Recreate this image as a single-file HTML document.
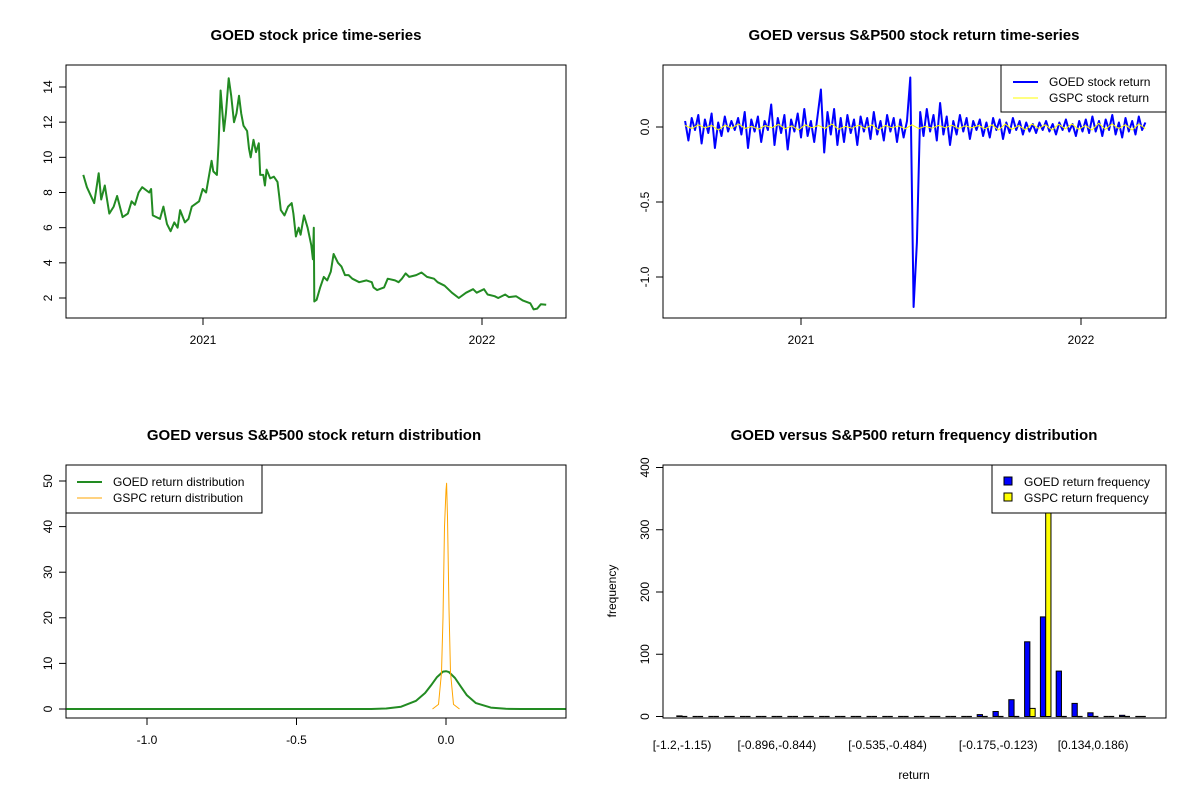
<!DOCTYPE html>
<html><head><meta charset="utf-8"><title>GOED charts</title>
<style>
html,body{margin:0;padding:0;background:#fff;}
svg{display:block;font-family:"Liberation Sans",Arial,sans-serif;}
.t{font-weight:bold;font-size:15px;}
.k{font-size:12px;}
</style></head><body>
<svg id="c" width="1200" height="800" viewBox="0 0 1200 800" xmlns="http://www.w3.org/2000/svg"></svg>
<script>
// ---------- DATA ----------
const priceT = [2020.571,2020.584,2020.610,2020.626,2020.635,2020.648,2020.664,2020.680,2020.692,2020.712,2020.731,2020.744,2020.756,2020.769,2020.782,2020.807,2020.814,2020.820,2020.846,2020.858,2020.871,2020.884,2020.897,2020.909,2020.918,2020.935,2020.948,2020.960,2020.986,2020.999,2021.011,2021.031,2021.037,2021.050,2021.056,2021.063,2021.075,2021.082,2021.092,2021.101,2021.111,2021.120,2021.129,2021.137,2021.145,2021.158,2021.165,2021.171,2021.181,2021.190,2021.200,2021.205,2021.216,2021.222,2021.228,2021.241,2021.254,2021.267,2021.273,2021.279,2021.292,2021.305,2021.318,2021.324,2021.333,2021.343,2021.350,2021.362,2021.375,2021.388,2021.394,2021.397,2021.399,2021.407,2021.420,2021.433,2021.445,2021.458,2021.468,2021.484,2021.496,2021.509,2021.522,2021.535,2021.560,2021.586,2021.605,2021.611,2021.624,2021.649,2021.662,2021.688,2021.701,2021.713,2021.726,2021.739,2021.764,2021.783,2021.803,2021.828,2021.841,2021.866,2021.892,2021.917,2021.943,2021.968,2021.981,2022.007,2022.020,2022.045,2022.058,2022.083,2022.096,2022.122,2022.147,2022.173,2022.185,2022.198,2022.211,2022.230];
const priceV = [9.0,8.3,7.4,9.1,7.6,8.4,6.8,7.2,7.8,6.6,6.8,7.5,7.3,8.0,8.3,8.0,8.2,6.7,6.5,7.2,6.2,5.8,6.3,6.0,7.0,6.3,6.5,7.2,7.5,8.2,8.0,9.8,9.2,9.0,10.8,13.8,11.5,12.5,14.5,13.5,12.0,12.5,13.5,12.5,11.8,11.5,10.5,10.0,11.0,10.3,10.8,9.0,9.0,8.4,9.3,8.8,8.9,8.6,7.8,7.0,6.7,7.2,7.4,6.8,5.5,6.0,5.6,6.7,6.0,5.0,4.2,6.0,1.8,1.9,2.6,3.2,3.0,3.5,4.5,4.0,3.8,3.3,3.3,3.1,2.9,3.0,2.9,2.6,2.45,2.6,3.1,3.0,2.9,3.1,3.4,3.2,3.3,3.45,3.2,3.1,2.9,2.7,2.3,2.0,2.3,2.5,2.3,2.5,2.2,2.1,2.0,2.2,2.05,2.1,1.85,1.7,1.35,1.4,1.65,1.62];
const priceTicksY = [2,4,6,8,10,12,14];
const yearTicks = [2021,2022];
const retStart = 2020.586, retEnd = 2022.23;
const goedRet = [0.04,-0.09,0.06,-0.02,0.08,-0.11,0.05,-0.04,0.09,-0.14,0.03,-0.06,0.07,-0.03,0.04,-0.02,0.06,-0.05,0.1,-0.14,0.05,-0.03,0.07,-0.1,0.04,-0.02,0.15,-0.12,0.06,-0.04,0.08,-0.15,0.05,-0.03,0.09,-0.07,0.12,-0.06,0.04,-0.1,0.07,0.25,-0.17,0.1,-0.05,0.12,-0.12,0.06,-0.1,0.08,-0.04,0.05,-0.12,0.07,-0.03,0.06,-0.08,0.1,-0.05,0.04,-0.09,0.08,-0.03,0.06,-0.1,0.05,-0.07,0.04,0.33,-1.2,-0.77,0.1,-0.06,0.12,-0.03,0.08,-0.09,0.16,-0.05,0.07,-0.12,0.04,-0.05,0.08,-0.03,0.06,-0.08,0.04,-0.02,0.05,-0.06,0.03,-0.07,0.06,-0.02,0.05,-0.08,0.03,-0.04,0.06,-0.02,0.04,-0.05,0.03,-0.03,0.02,-0.04,0.03,-0.02,0.04,-0.03,0.02,-0.05,0.03,-0.02,0.05,-0.03,0.02,-0.06,0.04,-0.03,0.05,-0.04,0.07,-0.03,0.04,-0.06,0.05,-0.02,0.08,-0.05,0.03,-0.07,0.06,-0.03,0.04,-0.05,0.07,-0.02,0.03];
const gspcRet = [0.01,-0.01,0.015,-0.005,0.01,-0.02,0.012,-0.008,0.02,-0.01,0.005,-0.015,0.01,-0.005,0.018,-0.012,0.008,-0.02,0.015,-0.005,0.01,-0.01,0.02,-0.015,0.005,-0.008,0.012,-0.01,0.015,-0.02,0.01,-0.005,0.008,-0.012,0.015,-0.01,0.005,-0.008,0.01,-0.005,0.012,-0.01,0.008,-0.006,0.01,-0.012,0.015,-0.02,0.02,-0.015,0.01,-0.018,0.02,-0.01,0.015,-0.02,0.018,-0.012,0.02,-0.015,0.01,-0.02,0.025,-0.015,0.02,-0.01,0.015,-0.02,0.02,-0.01];
const retTicksY = [0.0,-0.5,-1.0];
const goedDx = [-1.27,-0.25,-0.2,-0.15,-0.1,-0.07,-0.05,-0.03,-0.01,0.0,0.01,0.03,0.05,0.07,0.1,0.15,0.2,0.25,0.4];
const goedDy = [0,0,0.1,0.5,1.8,3.5,5.2,7.0,8.2,8.3,8.1,6.8,4.9,3.0,1.3,0.3,0.05,0,0];
const gspcDx = [-0.045,-0.025,-0.015,-0.01,-0.005,0.0,0.002,0.005,0.01,0.015,0.025,0.045];
const gspcDy = [0,1,8,20,40,48,49.5,42,22,8,1,0];
const densTicksX = [-1.0,-0.5,0.0];
const densTicksY = [0,10,20,30,40,50];
const binLabels = ["[-1.2,-1.15)","","","","","","[-0.896,-0.844)","","","","","","","[-0.535,-0.484)","","","","","","","[-0.175,-0.123)","","","","","","[0.134,0.186)","","",""];
const goedFreq = [1,0,0,0,0,0,0,0,0,0,0,0,0,0,0,0,0,0,0,3,8,27,120,160,73,21,6,0,2,0];
const gspcFreq = [0,0,0,0,0,0,0,0,0,0,0,0,0,0,0,0,0,0,0,0,0,0,13,480,0,0,0,0,0,0];
const freqTicksY = [0,100,200,300,400];

// ---------- HELPERS ----------
const svg = document.getElementById('c');
const NS = 'http://www.w3.org/2000/svg';
function mk(tag, attrs, parent){const e=document.createElementNS(NS,tag);for(const k in attrs)e.setAttribute(k,attrs[k]);(parent||svg).appendChild(e);return e;}
function txt(s, x, y, cls, anchor, rot, parent){const e=mk('text',{x:x,y:y,'class':cls,'text-anchor':anchor||'middle'},parent);if(rot)e.setAttribute('transform','rotate(-90 '+x+' '+y+')');e.textContent=s;return e;}
function lin(d0,d1,r0,r1){return v=>r0+(v-d0)*(r1-r0)/(d1-d0);}
function box(x0,y0,x1,y1,name){const r=mk('rect',{x:x0,y:y0,width:x1-x0,height:y1-y0,fill:'none',stroke:'#000','stroke-width':1});}
function yAxis(ticks,sy,x,fmt,name){const g=mk('g',{});
 mk('line',{x1:x,x2:x,y1:sy(ticks[0]),y2:sy(ticks[ticks.length-1]),stroke:'#000'},g);
 ticks.forEach(t=>{mk('line',{x1:x-7,x2:x,y1:sy(t),y2:sy(t),stroke:'#000'},g);txt(fmt(t),x-14,sy(t),'k','middle',true,g);});}
function xAxis(ticks,sx,y,fmt,name){const g=mk('g',{});
 mk('line',{x1:sx(ticks[0]),x2:sx(ticks[ticks.length-1]),y1:y,y2:y,stroke:'#000'},g);
 ticks.forEach(t=>{mk('line',{x1:sx(t),x2:sx(t),y1:y,y2:y+7,stroke:'#000'},g);txt(fmt(t),sx(t),y+26,'k','middle',false,g);});}
function poly(xs,ys,sx,sy,color,w,name,clip){const p=xs.map((v,i)=>sx(v).toFixed(1)+','+sy(ys[i]).toFixed(1)).join(' ');const e=mk('polyline',{points:p,fill:'none',stroke:color,'stroke-width':w,'stroke-linejoin':'round'});if(clip)e.setAttribute('clip-path',clip);return e;}

const defs=mk('defs',{});
function clip(id,x0,y0,x1,y1){const c=mk('clipPath',{id:id},defs);mk('rect',{x:x0,y:y0,width:x1-x0,height:y1-y0},c);}
clip('c1',66,65,566,318);clip('c2',663,65,1166,318);clip('c3',66,465,566,718);clip('c4',663,465,1166,718);

// ---------- PANEL 1 ----------
{const sx=lin(2021,2022,203,482), sy=lin(2,14,298,87);
 txt('GOED stock price time-series',316,40,'t');
 box(66,65,566,318,'price-plot-frame');
 yAxis(priceTicksY,sy,66,v=>String(v),'price-y-axis');
 xAxis(yearTicks,sx,318,v=>String(v),'price-x-axis');
 poly(priceT,priceV,sx,sy,'#228B22',2,'price-line','url(#c1)');}

// ---------- PANEL 2 ----------
{const sx=lin(2021,2022,801,1081), sy=lin(0,-1,127,277);
 txt('GOED versus S&P500 stock return time-series',914,40,'t');
 box(663,65,1166,318,'return-plot-frame');
 yAxis(retTicksY,sy,663,v=>v.toFixed(1),'return-y-axis');
 xAxis(yearTicks,sx,318,v=>String(v),'return-x-axis');
 const gt=goedRet.map((v,i)=>retStart+i*(retEnd-retStart)/(goedRet.length-1));
 poly(gt,goedRet,sx,sy,'#0000FF',2,'goed-return-line','url(#c2)');
 const st=gspcRet.map((v,i)=>retStart+i*(retEnd-retStart)/(gspcRet.length-1));
 poly(st,gspcRet,sx,sy,'#FFFF00',1,'gspc-return-line','url(#c2)');
 const lg=mk('g',{});
 mk('rect',{x:1001,y:65,width:165,height:47,fill:'#fff',stroke:'#000'},lg);
 mk('line',{x1:1013,x2:1038,y1:82,y2:82,stroke:'#0000FF','stroke-width':2},lg);
 mk('line',{x1:1013,x2:1038,y1:98,y2:98,stroke:'#FFFF00','stroke-width':1},lg);
 txt('GOED stock return',1049,86,'k','start',false,lg);
 txt('GSPC stock return',1049,102,'k','start',false,lg);}

// ---------- PANEL 3 ----------
{const sx=lin(-1,0,147,446), sy=lin(0,50,709,481);
 txt('GOED versus S&P500 stock return distribution',314,440,'t');
 box(66,465,566,718,'density-plot-frame');
 yAxis(densTicksY,sy,66,v=>String(v),'density-y-axis');
 xAxis(densTicksX,sx,718,v=>v.toFixed(1),'density-x-axis');
 poly(goedDx,goedDy,sx,sy,'#228B22',2,'goed-density-line','url(#c3)');
 poly(gspcDx,gspcDy,sx,sy,'#FFA500',1,'gspc-density-line','url(#c3)');
 const lg=mk('g',{});
 mk('rect',{x:66,y:465,width:196,height:48,fill:'#fff',stroke:'#000'},lg);
 mk('line',{x1:77,x2:102,y1:482,y2:482,stroke:'#228B22','stroke-width':2},lg);
 mk('line',{x1:77,x2:102,y1:498,y2:498,stroke:'#FFA500','stroke-width':1},lg);
 txt('GOED return distribution',113,486,'k','start',false,lg);
 txt('GSPC return distribution',113,502,'k','start',false,lg);}

// ---------- PANEL 4 ----------
{const u=5.27, x0=671.5, sy=lin(0,400,716.5,467.5);
 txt('GOED versus S&P500 return frequency distribution',914,440,'t');
 box(663,465,1166,718,'frequency-plot-frame');
 yAxis(freqTicksY,sy,663,v=>String(v),'frequency-y-axis');
 const ylab=txt('frequency',616,591,'k','middle',true);
 const xlab=txt('return',914,779,'k');
 const bg=mk('g',{'clip-path':'url(#c4)'});
 function bar(xa,v,fill,name){
  const h=Math.max(0,sy(0)-sy(v));
  let b;
  if(h<0.5){b=mk('line',{x1:xa.toFixed(1),x2:(xa+u).toFixed(1),y1:sy(0),y2:sy(0),stroke:'#000','stroke-width':1.2},bg);}
  else{b=mk('rect',{x:xa.toFixed(1),y:(sy(0)-h).toFixed(1),width:u.toFixed(2),height:h.toFixed(1),fill:fill,stroke:'#000','stroke-width':1},bg);}
  
 }
 goedFreq.forEach((v,g)=>{
  const xa=x0+(3*g+1)*u;
  bar(xa,v,'#0000FF','goed-bar');
  bar(xa+u,gspcFreq[g],'#FFFF00','gspc-bar');
  if(binLabels[g]){const l=txt(binLabels[g],x0+(3*g+2)*u,749,'k');}
 });
 const lg=mk('g',{});
 mk('rect',{x:992,y:465,width:174,height:48,fill:'#fff',stroke:'#000'},lg);
 mk('rect',{x:1004,y:477,width:8,height:8,fill:'#0000FF',stroke:'#000'},lg);
 mk('rect',{x:1004,y:493,width:8,height:8,fill:'#FFFF00',stroke:'#000'},lg);
 txt('GOED return frequency',1024,486,'k','start',false,lg);
 txt('GSPC return frequency',1024,502,'k','start',false,lg);}
</script>
</body></html>
